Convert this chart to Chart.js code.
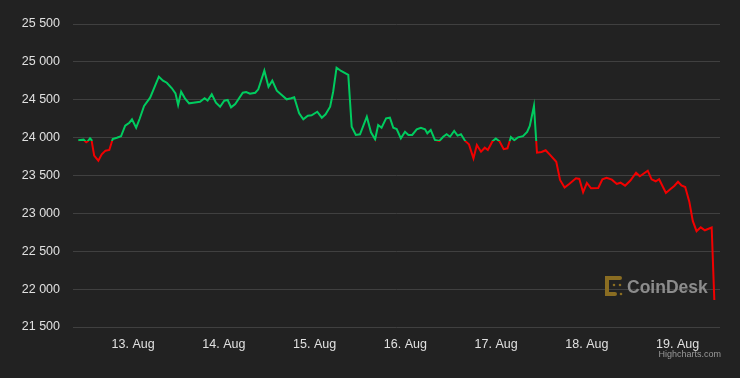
<!DOCTYPE html>
<html>
<head>
<meta charset="utf-8">
<script src="https://cdn.jsdelivr.net/npm/chart.js@4.4.0/dist/chart.umd.min.js"></script>
<style>
  body { margin: 0; background: #222222; }
  #caixa { width: 740px; height: 378px; position: relative; }
</style>
</head>
<body>
<div id="caixa"><canvas id="grafico"></canvas></div>
<script>
// horas desde 12 Aug 00:00
var horas = [9.5, 10.9, 11.6, 12.0, 12.6, 13.0, 13.7, 14.8, 15.7, 16.7, 17.7, 18.6, 19.7, 20.8, 21.9, 23.0, 23.7,
  24.8, 25.7, 26.9, 28.5, 30.8, 31.9, 32.9, 34.2, 35.2, 35.9, 36.7, 37.7, 38.8, 39.9, 41.7, 42.9, 43.7, 44.8, 45.9, 47.0,
  48.1, 49.0, 49.9, 51.0, 53.0, 53.9, 54.9, 56.3, 57.1, 58.7, 59.8, 60.8, 62.0, 63.3, 64.6, 65.8, 66.6, 67.9, 69.0, 70.2, 71.2,
  72.7, 73.9, 74.9, 76.1, 76.9, 77.8, 79.0, 80.9, 81.8, 82.9, 84.0, 85.8, 86.9, 88.0, 88.8, 89.7, 90.9, 91.9, 92.8, 93.7, 94.8, 95.9,
  96.8, 97.8, 99.0, 100.1, 101.2, 101.8, 102.7, 103.8, 105.0, 106.0, 106.9, 107.8, 108.9, 109.8, 110.7, 111.8, 112.8, 114.0, 114.9, 116.0, 117.0, 117.8, 119.0,
  119.9, 120.9, 122.0, 123.0, 123.9, 124.8, 125.8, 127.1, 128.2, 128.9, 130.0, 130.8, 132.0, 133.1, 134.2, 135.9, 136.9, 138.1, 139.4, 141.1, 142.0, 143.0,
  144.0, 145.1, 147.0, 148.1, 149.2, 150.6, 151.9, 152.9, 154.1, 155.5, 157.0, 158.0, 160.1, 161.1, 162.2, 163.1, 164.9, 166.2, 167.1,
  168.1, 169.0, 170.0, 171.1, 172.0, 173.0, 174.1, 175.2, 177.0, 177.7]

var precos = [23965, 23973, 23938, 23952, 23991, 23969, 23762, 23696, 23780, 23828, 23837, 23982, 23999, 24018, 24158, 24197, 24242,
  24131, 24246, 24418, 24527, 24804, 24752, 24725, 24655, 24585, 24431, 24606, 24519, 24453, 24461, 24474, 24519, 24488, 24572, 24461, 24408,
  24488, 24497, 24400, 24444, 24593, 24602, 24580, 24593, 24638, 24884, 24672, 24752, 24620, 24563, 24506, 24519, 24532, 24321, 24242, 24290, 24295,
  24342, 24263, 24308, 24408, 24606, 24923, 24880, 24827, 24144, 24035, 24044, 24276, 24070, 23978, 24167, 24131, 24255, 24263, 24131, 24114, 23991, 24078,
  24035, 24035, 24110, 24131, 24110, 24057, 24101, 23969, 23956, 24012, 24044, 24012, 24088, 24026, 24044, 23956, 23912, 23727, 23903, 23814, 23867, 23837, 23949,
  23989, 23949, 23847, 23859, 24008, 23965, 24004, 24019, 24074, 24154, 24418, 23801, 23810, 23833, 23775, 23682, 23441, 23342, 23392, 23463, 23454, 23280,
  23401, 23331, 23335, 23451, 23471, 23445, 23388, 23405, 23366, 23434, 23537, 23490, 23564, 23450, 23424, 23451, 23269, 23325, 23362,
  23418, 23368, 23348, 23150, 22900, 22765, 22816, 22777, 22814, 21857]

var precoAbertura = 23962

var tickHoras = [24, 48, 72, 96, 120, 144, 168]
var tickDias = ['13. Aug', '14. Aug', '15. Aug', '16. Aug', '17. Aug', '18. Aug', '19. Aug']

var verde = '#00cc5f'
var vermelho = '#f20000'

var pontos = []
for (let i = 0; i < horas.length; i++) {
  pontos.push({ x: horas[i], y: precos[i] })
}

function corLinha(context) {
  var chart = context.chart
  var area = chart.chartArea
  if (!area) {
    return verde
  }
  var yLimite = chart.scales.y.getPixelForValue(precoAbertura)
  var parada = (yLimite - area.top) / (area.bottom - area.top)
  parada = Math.min(Math.max(parada, 0), 1)
  var grad = chart.ctx.createLinearGradient(0, area.top, 0, area.bottom)
  grad.addColorStop(0, verde)
  grad.addColorStop(parada, verde)
  grad.addColorStop(parada, vermelho)
  grad.addColorStop(1, vermelho)
  return grad
}

function separarMilhar(v) {
  return String(v).replace(/\B(?=(\d{3})+(?!\d))/g, ' ')
}

// marca d'agua CoinDesk + credito
const marcaDagua = {
  id: 'marcaDagua',
  beforeDatasetsDraw(chart) {
    const ctx = chart.ctx
    ctx.save()
    ctx.strokeStyle = '#8a6d22'
    ctx.fillStyle = '#8a6d22'
    ctx.lineWidth = 4
    ctx.lineCap = 'round'
    ctx.beginPath()
    ctx.moveTo(620, 278)
    ctx.lineTo(607, 278)
    ctx.lineTo(607, 294)
    ctx.lineTo(615, 294)
    ctx.stroke()
    ctx.beginPath()
    ctx.arc(614, 285, 1.3, 0, Math.PI * 2)
    ctx.arc(620, 285, 1.3, 0, Math.PI * 2)
    ctx.fill()
    ctx.beginPath()
    ctx.arc(621, 294, 1.3, 0, Math.PI * 2)
    ctx.fill()

    ctx.fillStyle = '#8c8c8c'
    ctx.font = 'bold 17.5px "Liberation Sans", Arial, sans-serif'
    ctx.textBaseline = 'alphabetic'
    ctx.textAlign = 'left'
    ctx.fillText('CoinDesk', 627, 293)
    ctx.restore()
  },
  afterDraw(chart) {
    const ctx = chart.ctx
    ctx.save()
    ctx.fillStyle = '#999999'
    ctx.font = '9px "Liberation Sans", Arial, sans-serif'
    ctx.textAlign = 'right'
    ctx.textBaseline = 'middle'
    ctx.fillText('Highcharts.com', 721, 355)
    ctx.restore()
  }
}

var fonteEixo = { family: '"Liberation Sans", Arial, sans-serif', size: 12.5 }

new Chart(document.getElementById('grafico'), {
  type: 'line',
  data: {
    datasets: [{
      label: 'BTC',
      data: pontos,
      borderColor: corLinha,
      borderWidth: 2,
      pointRadius: 0,
      tension: 0,
      fill: false
    }]
  },
  options: {
    responsive: true,
    maintainAspectRatio: false,
    animation: false,
    layout: { padding: { top: 24, right: 20, left: 0, bottom: 0 } },
    plugins: {
      legend: { display: false },
      tooltip: { enabled: false }
    },
    scales: {
      x: {
        type: 'linear',
        min: 8.1,
        max: 179.2,
        grid: { display: false },
        border: { display: false },
        afterBuildTicks: function (scale) {
          scale.ticks = tickHoras.map(function (h) { return { value: h } })
        },
        afterFit: function (scale) { scale.height = 51 },
        ticks: {
          color: '#e0e0e0',
          font: fonteEixo,
          padding: 2,
          maxRotation: 0,
          autoSkip: false,
          callback: function (value) {
            var i = tickHoras.indexOf(value)
            return i >= 0 ? tickDias[i] : ''
          }
        }
      },
      y: {
        min: 21500,
        max: 25500,
        grid: { color: '#404040', lineWidth: 1, drawTicks: false },
        border: { display: false },
        afterFit: function (scale) { scale.width = 73 },
        ticks: {
          stepSize: 500,
          color: '#e0e0e0',
          font: fonteEixo,
          padding: 13,
          callback: function (value) { return separarMilhar(value) }
        }
      }
    }
  },
  plugins: [marcaDagua]
})
</script>
</body>
</html>
